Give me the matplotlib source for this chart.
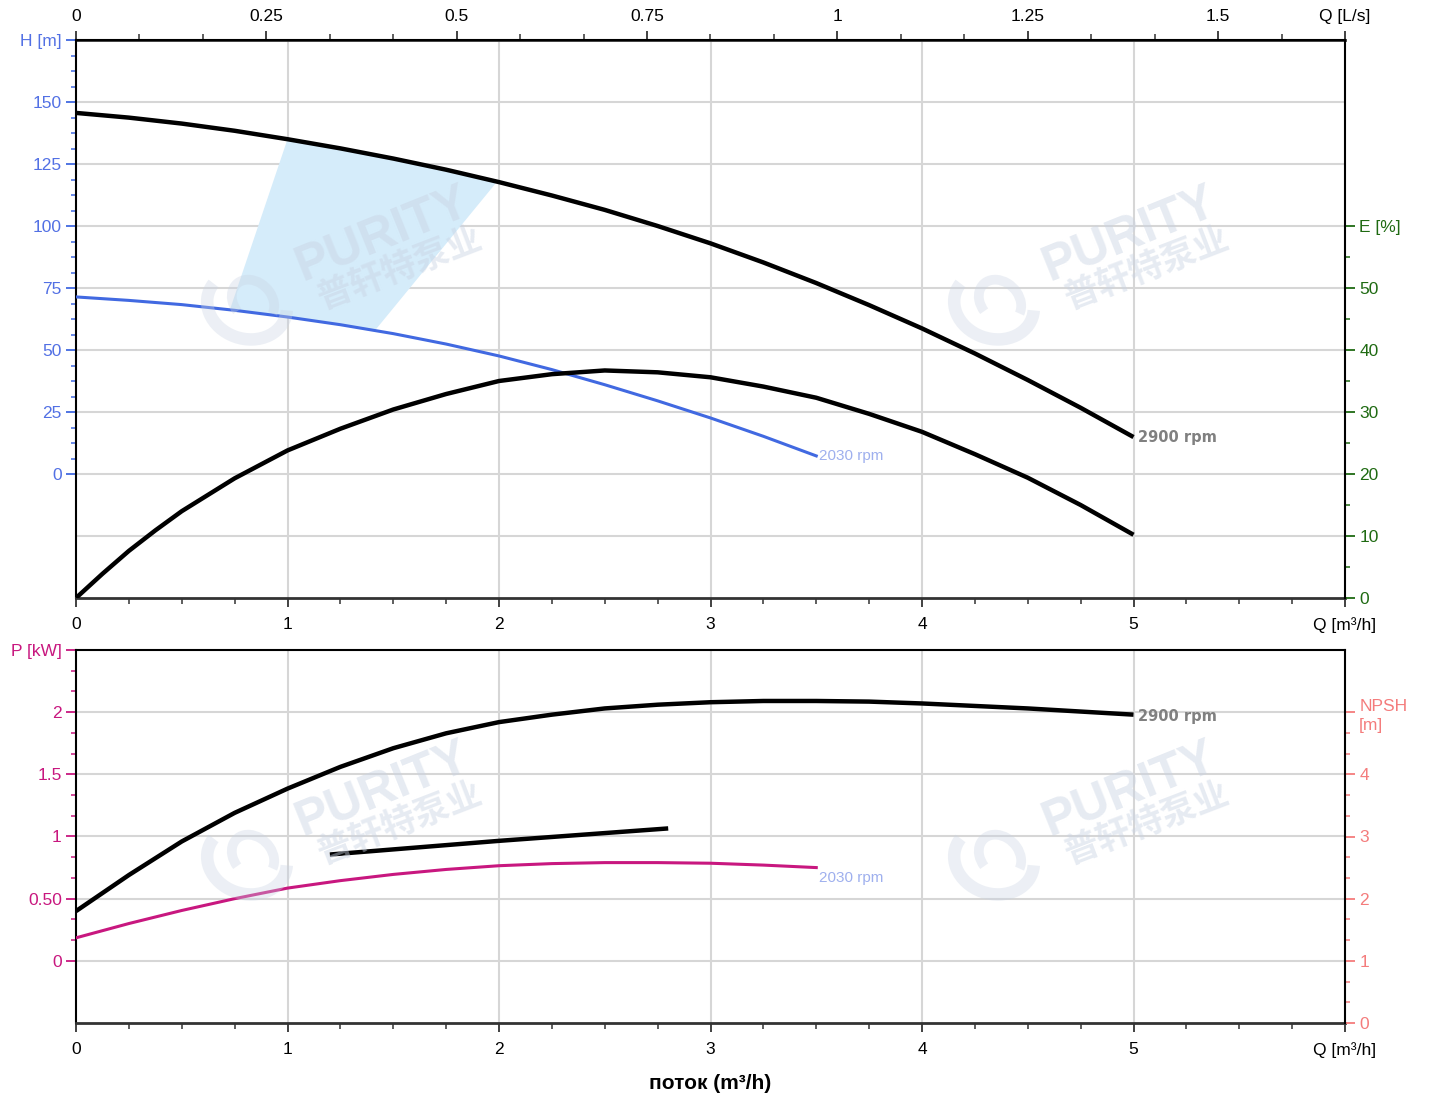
import matplotlib
matplotlib.use('Agg')
import matplotlib.pyplot as plt
import numpy as np
from matplotlib.ticker import FixedLocator, FixedFormatter
from matplotlib.patches import Arc

plt.rcParams['font.family'] = ['Liberation Sans', 'Noto Sans CJK SC', 'DejaVu Sans']

# ---- data ----
q_head = [0, 0.25, 0.5, 0.75, 1, 1.25, 1.5, 1.75, 2, 2.25, 2.5, 2.75, 3, 3.25, 3.5,
          3.75, 4, 4.25, 4.5, 4.75, 5]
head_2900 = [145.6, 143.7, 141.3, 138.4, 135.0, 131.3, 127.2, 122.7, 117.7, 112.3, 106.5,
             100.0, 93.0, 85.3, 77.0, 68.1, 58.7, 48.6, 37.9, 26.7, 14.9]

q_head_low = [0, 0.25, 0.5, 0.75, 1, 1.25, 1.5, 1.75, 2, 2.25, 2.5, 2.75, 3, 3.25, 3.5]
head_2030 = [71.4, 70.0, 68.3, 66.0, 63.3, 60.2, 56.6, 52.4, 47.6, 42.1, 36.0, 29.5,
             22.6, 15.2, 7.3]

q_eff = [0, 0.125, 0.25, 0.375, 0.5, 0.75, 1, 1.25, 1.5, 1.75, 2, 2.25, 2.5, 2.75, 3,
         3.25, 3.5, 3.75, 4, 4.25, 4.5, 4.75, 5]
eff_2900 = [0, 3.9, 7.6, 10.9, 14.0, 19.3, 23.8, 27.3, 30.4, 32.9, 35.0, 36.1, 36.7,
            36.4, 35.6, 34.1, 32.3, 29.7, 26.8, 23.2, 19.4, 15.0, 10.2]

# recommended operating range (shaded)
region_q = [1.0, 1.25, 1.5, 1.75, 1.99, 1.41, 1.2, 0.95, 0.73]
region_h = [135.0, 131.3, 127.2, 122.7, 117.8, 57.5, 60.7, 63.8, 66.8]

q_pow = q_head
pow_2900 = [0.40, 0.69, 0.96, 1.19, 1.385, 1.56, 1.71, 1.83, 1.92, 1.98, 2.03, 2.06, 2.08,
            2.09, 2.09, 2.085, 2.07, 2.05, 2.03, 2.005, 1.98]

q_pow_low = q_head_low
pow_2030 = [0.185, 0.30, 0.405, 0.50, 0.585, 0.645, 0.695, 0.735, 0.765, 0.782, 0.79,
            0.79, 0.785, 0.77, 0.75]

q_npsh = [1.2, 2.0, 2.8]
npsh_2900 = [2.71, 2.93, 3.13]

q_ticks = [0, 1, 2, 3, 4, 5, 6]
q_labels = ['0', '1', '2', '3', '4', '5', 'Q [m³/h]']
ls_ticks = [0, 0.25, 0.5, 0.75, 1, 1.25, 1.5, 6 / 3.6]
ls_labels = ['0', '0.25', '0.5', '0.75', '1', '1.25', '1.5', 'Q [L/s]']
h_ticks = [0, 25, 50, 75, 100, 125, 150, 175]
h_labels = ['0', '25', '50', '75', '100', '125', '150', 'H [m]']
e_ticks = [0, 10, 20, 30, 40, 50, 60]
e_labels = ['0', '10', '20', '30', '40', '50', 'E [%]']
p_ticks = [0, 0.5, 1, 1.5, 2, 2.5]
p_labels = ['0', '0.50', '1', '1.5', '2', 'P [kW]']
n_ticks = [0, 1, 2, 3, 4, 5]
n_labels = ['0', '1', '2', '3', '4', 'NPSH\n[m]']

BLUE = '#4169e1'
HBLUE = '#5270e4'
GREEN = '#1f6a12'
MAG = '#c8177f'
SALMON = '#f47c7c'
GRID = '#d6d6d6'
DARK = '#333333'
FS = 12.5

W, H = 1431, 1099
fig = plt.figure(figsize=(W / 100, H / 100), dpi=100)
ax1 = fig.add_axes([76 / W, 1 - 598 / H, 1269 / W, 558 / H])
ax2 = fig.add_axes([76 / W, 1 - 1023 / H, 1269 / W, 373 / H])


def style_q_axis(ax):
    ax.set_xlim(0, 6)
    ax.xaxis.set_major_locator(FixedLocator(q_ticks))
    ax.xaxis.set_major_formatter(FixedFormatter(q_labels))
    ax.xaxis.set_minor_locator(FixedLocator(np.arange(0, 6.01, 0.25)))
    ax.tick_params(axis='x', which='major', length=6.5, width=1.3, color=DARK,
                   labelsize=FS, pad=7)
    ax.tick_params(axis='x', which='minor', length=4.3, width=1.1, color=DARK)
    for q in q_ticks[1:-1]:
        ax.axvline(q, color=GRID, lw=1.5, zorder=0)
    ax.spines['bottom'].set_color(DARK)
    ax.spines['bottom'].set_linewidth(2)
    ax.spines['left'].set_linewidth(1.5)
    ax.spines['top'].set_linewidth(1.5)
    ax.spines['right'].set_visible(False)


def style_y(ax, ticks, labels, minor, color, lcolor):
    ax.yaxis.set_major_locator(FixedLocator(ticks))
    ax.yaxis.set_major_formatter(FixedFormatter(labels))
    ax.yaxis.set_minor_locator(FixedLocator(minor))
    ax.tick_params(axis='y', which='major', length=7.2, width=1.3, color=color,
                   labelcolor=lcolor, labelsize=FS, pad=3)
    ax.tick_params(axis='y', which='minor', length=3.6, width=1.1, color=color)


# ---------------- top panel: H and E ----------------
style_q_axis(ax1)
ax1.set_ylim(-50, 175)
style_y(ax1, h_ticks, h_labels, np.arange(0, 175.1, 6.25), BLUE, HBLUE)
for h in range(-25, 151, 25):
    ax1.axhline(h, color=GRID, lw=1.5, zorder=0)

ax1.fill(region_q, region_h, color='#d5ecfa', lw=0, zorder=1)
ax1.plot(q_head, head_2900, color='black', lw=3.2, zorder=4, solid_capstyle='butt')
ax1.plot(q_head_low, head_2030, color=BLUE, lw=2.2, zorder=4)
ax1.annotate('2900 rpm', (q_head[-1], head_2900[-1]), xytext=(3, 0),
             textcoords='offset points', va='center', ha='left',
             fontsize=10.5, fontweight='bold', family='DejaVu Sans', color='#808080')
ax1.annotate('2030 rpm', (q_head_low[-1], head_2030[-1]), xytext=(2, 0),
             textcoords='offset points', va='center', ha='left',
             fontsize=11, color='#9fb0ee')

ax1e = ax1.twinx()
ax1e.set_ylim(0, 90)
style_y(ax1e, e_ticks, e_labels, np.arange(0, 60.1, 5), GREEN, GREEN)
for s in ['left', 'top', 'bottom']:
    ax1e.spines[s].set_visible(False)
ax1e.spines['right'].set_linewidth(1.5)
ax1e.plot(q_eff, eff_2900, color='black', lw=3.2, solid_capstyle='butt')

sec = ax1.secondary_xaxis('top', functions=(lambda q: q / 3.6, lambda l: l * 3.6))
sec.xaxis.set_major_locator(FixedLocator(ls_ticks))
sec.xaxis.set_major_formatter(FixedFormatter(ls_labels))
sec.xaxis.set_minor_locator(FixedLocator(np.arange(0, 1.67, 0.25 / 3)))
sec.tick_params(axis='x', which='major', length=6.5, width=1.3, color=DARK,
                labelsize=FS, pad=5)
sec.tick_params(axis='x', which='minor', length=4.3, width=1.1, color=DARK)
sec.spines['top'].set_color(DARK)
sec.spines['top'].set_linewidth(2)

# ---------------- bottom panel: P and NPSH ----------------
style_q_axis(ax2)
ax2.set_ylim(-0.5, 2.5)
style_y(ax2, p_ticks, p_labels, np.arange(0, 2.51, 1 / 6), MAG, MAG)
for p in p_ticks[:-1]:
    ax2.axhline(p, color=GRID, lw=1.5, zorder=0)

ax2.plot(q_pow, pow_2900, color='black', lw=3.2, zorder=4, solid_capstyle='butt')
ax2.plot(q_pow_low, pow_2030, color=MAG, lw=2.2, zorder=4)
ax2.annotate('2900 rpm', (q_pow[-1], pow_2900[-1]), xytext=(3, -1),
             textcoords='offset points', va='center', ha='left',
             fontsize=10.5, fontweight='bold', family='DejaVu Sans', color='#808080')
ax2.annotate('2030 rpm', (q_pow_low[-1], pow_2030[-1]), xytext=(2, -7.5),
             textcoords='offset points', va='center', ha='left',
             fontsize=11, color='#9fb0ee')
ax2.set_xlabel('поток (m³/h)', fontsize=15, fontweight='bold', labelpad=12)

ax2n = ax2.twinx()
ax2n.set_ylim(0, 6)
style_y(ax2n, n_ticks, n_labels, np.arange(0, 5.01, 1 / 3), SALMON, SALMON)
for s in ['left', 'top', 'bottom']:
    ax2n.spines[s].set_visible(False)
ax2n.spines['right'].set_linewidth(1.5)
ax2n.plot(q_npsh, npsh_2900, color='black', lw=3.2, solid_capstyle='butt')
for t in ax2n.get_yticklabels():
    t.set_linespacing(1.35)

# ---------------- watermarks ----------------
WM = '#c9d3e3'
for dx in (0, 747):
    for dy in (0, 555):
        fig.text((383 + dx) / W, 1 - (235 + dy) / H, 'PURITY', fontsize=36,
                 fontweight='bold', rotation=22, ha='center', va='center',
                 color=WM, alpha=0.45)
        fig.text((400 + dx) / W, 1 - (268 + dy) / H, '普轩特泵业', fontsize=25,
                 fontweight='bold', rotation=21, ha='center', va='center',
                 family=['Noto Sans CJK SC', 'DejaVu Sans'],
                 color=WM, alpha=0.45)
        cx, cy = (247 + dx) / W, 1 - (305 + dy) / H
        fig.patches.append(Arc((cx, cy), 78 / W, 70 / H, angle=20, theta1=120,
                               theta2=330, lw=9, color=WM, alpha=0.35,
                               transform=fig.transFigure))
        fig.patches.append(Arc((cx + 6 / W, cy + 4 / H), 40 / W, 44 / H, angle=20,
                               theta1=-60, theta2=200, lw=7, color=WM, alpha=0.35,
                               transform=fig.transFigure))

fig.savefig('out.png', dpi=100)
